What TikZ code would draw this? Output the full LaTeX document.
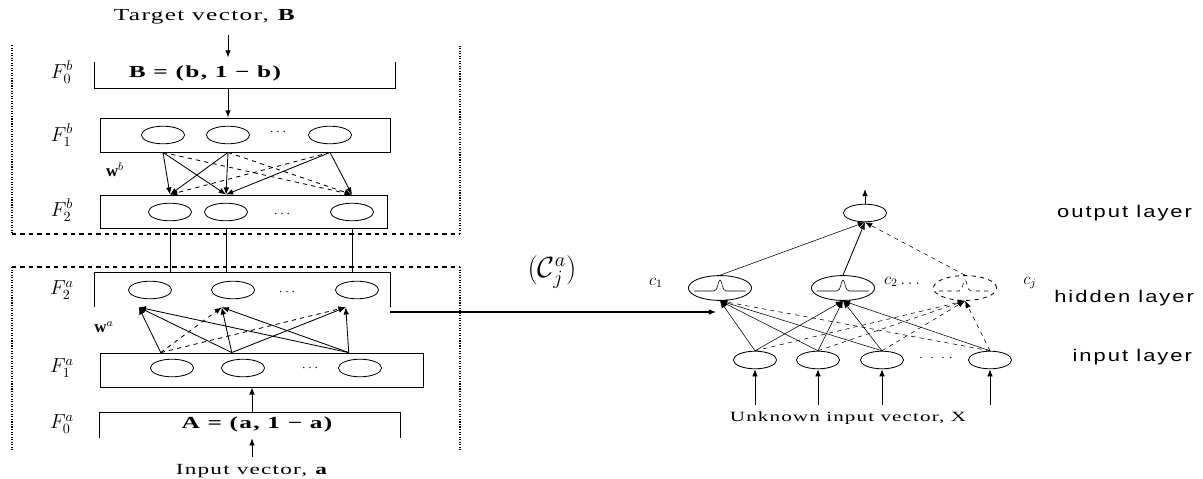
\documentclass[tikz,border=0pt]{standalone}
\usepackage{fontspec}
\setmainfont{Liberation Serif}
\newfontfamily\capfont[FakeStretch=1.5,LetterSpace=8]{Liberation Serif}
\newfontfamily\layfont[FakeStretch=1.3,LetterSpace=12]{Liberation Sans}
\usetikzlibrary{arrows.meta,positioning,shapes.geometric}

\begin{document}
\begin{tikzpicture}[
    x=0.025cm, y=-0.025cm,
    every node/.style={font=\normalsize},
    layerbox/.style={draw, rectangle, semithick, inner sep=0pt, minimum height=0.85cm},
    openbox/.style={rectangle, inner sep=0pt},
    unit/.style={draw, ellipse, line width=0.6pt, inner sep=0pt, minimum width=1.08cm, minimum height=0.44cm},
    rbf/.style={unit, minimum width=1.58cm, minimum height=0.62cm},
    flow/.style={-{Latex[length=1.8mm,width=1.4mm]}, semithick},
    dflow/.style={flow, dashed},
    frame/.style={densely dotted, thick},
    framedash/.style={dashed, thick}
]
\useasboundingbox (0,0) rectangle (1203,479);

% module for target vector B
\node (tgt) at (205,17) {\large\capfont Target vector, \textbf{B}};
\node[openbox, minimum width=7.5cm, minimum height=0.65cm] (f0b) at (245,75) {};
\draw[semithick] (f0b.north west) |- (f0b.south east) -- (f0b.north east);
\node (btxt) at (205,73) {\large\capfont\bfseries B = (b, 1 − b)};
\node[layerbox, minimum width=7.25cm] (f1b) at (245,135) {};
\node[layerbox, minimum width=7.175cm, minimum height=0.825cm] (f2b) at (243.5,211.5) {};
\foreach \n/\x in {1/163,2/228,3/330} \node[unit] (f1b\n) at (\x,135) {};
\foreach \n/\x in {1/170,2/226,3/352} \node[unit] (f2b\n) at (\x,212) {};
\node (f1bdots) at (278,132) {$\cdots$};
\node (f2bdots) at (282,214) {$\cdots$};
\node (lf0b) at (62,72) {\Large$F_0^b$};
\node (lf1b) at (62,135) {\Large$F_1^b$};
\node (lf2b) at (62,210) {\Large$F_2^b$};
\node (lwb) at (115,170) {\large$\mathbf{w}^{b}$};
\draw[flow, shorten <=4pt, shorten >=3pt] (tgt.south -| f1b2) -- (f0b.north -| f1b2);
\draw[flow] (f0b.south -| f1b2) -- (f1b.north -| f1b2);
\foreach \i/\j/\s in {1/1/flow,1/2/flow,1/3/dflow,2/1/flow,2/2/flow,2/3/dflow,3/1/dflow,3/2/flow,3/3/flow}
  \draw[\s] (f1b\i |- f1b.south) -- (f2b\j |- f2b.north);
\draw[frame] (12,45) -- (12,234);
\draw[framedash] (12,234) -- (460,234);
\draw[frame] (460,234) -- (460,45);

% module for input vector a
\node[openbox, minimum width=7.375cm, minimum height=0.85cm] (f2a) at (242.5,290) {};
\draw[semithick] (f2a.south west) |- (f2a.north east) -- (f2a.south east);
\node[layerbox, minimum width=8.075cm] (f1a) at (261.5,370) {};
\node[openbox, minimum width=7.5cm, minimum height=0.625cm] (f0a) at (250,425.5) {};
\draw[semithick] (f0a.south west) |- (f0a.north east) -- (f0a.south east);
\node (atxt) at (257,424) {\large\capfont\bfseries A = (a, 1 − a)};
\node (inp) at (252,471) {\fontsize{11}{13}\selectfont\capfont Input vector, \textbf{a}};
\foreach \n/\x in {1/150,2/233,3/357} \node[unit] (f2a\n) at (\x,290) {};
\foreach \n/\x in {1/172,2/243,3/360} \node[unit] (f1a\n) at (\x,368) {};
\node (f2adots) at (287,292) {$\cdots$};
\node (f1adots) at (310,368) {$\cdots$};
\node (lf2a) at (62,290) {\Large$F_2^a$};
\node (lf1a) at (62,368) {\Large$F_1^a$};
\node (lf0a) at (62,424) {\Large$F_0^a$};
\node (lwa) at (104,327) {\large$\mathbf{w}^{a}$};
\foreach \j in {1,2,3} \draw[semithick] (f2b\j |- f2b.south) -- (f2b\j |- f2a.north);
\foreach \i/\j/\s in {1/1/flow,1/2/dflow,1/3/dflow,2/1/flow,2/2/flow,2/3/flow,3/1/flow,3/2/flow,3/3/flow}
  \draw[\s] ([xshift=-8]f1a\i |- f1a.north) -- ([xshift=-8]f2a\j |- f2a.south);
\draw[flow] (f0a.north -| inp) -- (f1a.south -| inp);
\draw[flow, shorten <=2pt] (inp) -- (inp |- f0a.south);
\draw[framedash] (12,267) -- (460,267);
\draw[frame] (12,267) -- (12,450);
\draw[frame] (460,267) -- (460,450);

\node (cja) at (552,272) {\huge$(\mathcal{C}^{a}_{j})$};

% RBF network
\node[unit] (out) at (865,213) {};
\node[rbf] (h1) at (720,288) {};
\node[rbf] (h2) at (843,288) {};
\node[rbf, dashed] (h3) at (965,288) {};
\foreach \n/\x in {1/755,2/818,3/882,4/990} \node[unit] (x\n) at (\x,360) {};
\foreach \h/\s in {h1/solid,h2/solid,h3/dashed}
  \draw[thin, \s, shift={(\h.center)}] (-26,3) -- (-6,3) .. controls (-2,3) and (-2,-8) .. (0,-8) .. controls (2,-8) and (2,3) .. (6,3) -- (26,3);
\node (lc1) at (656,283) {\large$c_1$};
\node (lc2) at (902,282) {\large$c_2\ldots$};
\node (lcj) at (1030,283) {\large$c_j$};
\node (xdots) at (936,358) {$\cdot\;\cdot\;\cdot\;\cdot$};
\foreach \i/\j/\s in {1/1/flow,2/1/flow,3/1/flow,4/1/dflow,1/2/flow,2/2/flow,3/2/flow,4/2/flow,1/3/dflow,2/3/dflow,3/3/dflow,4/3/dflow}
  \draw[\s, thin] (x\i.north) -- (h\j.south);
\draw[flow, thin] (h1.north) -- (out.south);
\draw[flow] (h2.north) -- (out.south);
\draw[dflow, thin] (h3.north) -- (out.south);
\coordinate (yout) at (865,189);
\draw[flow] (out) -- (yout);
\foreach \n/\x in {1/755,2/818,3/882,4/990} {
  \coordinate (xin\n) at (\x,405);
  \draw[flow] (xin\n) -- (x\n);
}
\node (xlab) at (848,418) {\capfont Unknown input vector, X};
\coordinate (cin) at (716,312);
\draw[flow, thick] (f2a.south east |- cin) -- (cin);

\node[anchor=east] (lout) at (1197,213) {\large\layfont output layer};
\node[anchor=east] (lhid) at (1199,298) {\large\layfont hidden layer};
\node[anchor=east] (linp) at (1197,357) {\large\layfont input layer};
\end{tikzpicture}
\end{document}
